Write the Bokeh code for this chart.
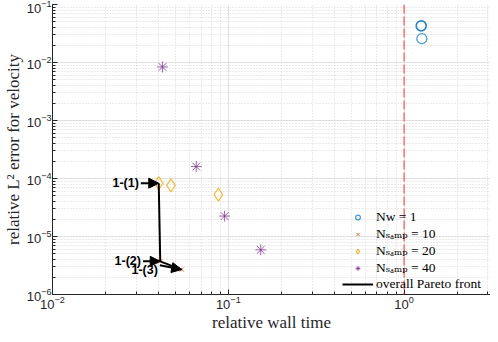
from bokeh.plotting import figure
from bokeh.models import Legend, LegendItem, Span, Arrow, NormalHead, ColumnDataSource
from bokeh.core.properties import value
from bokeh.embed import file_html
from bokeh.resources import INLINE

# ---- data ----
nw1_time = [1.247, 1.255, 1.262]
nw1_err = [0.0427, 0.0430, 0.0258]

samp10_time = [0.0410, 0.0543]
samp10_err = [3.73e-6, 2.69e-6]

samp20_time = [0.0402, 0.0472, 0.0878]
samp20_err = [8.3e-5, 7.6e-5, 5.27e-5]

samp40_time = [0.0422, 0.0657, 0.0953, 0.153]
samp40_err = [8.37e-3, 1.605e-4, 2.25e-5, 5.88e-6]

pareto_time = [0.0402, 0.0410, 0.0543]
pareto_err = [8.3e-5, 3.73e-6, 2.69e-6]

ref_time = 1.0

ann_labels = ["1-(1)", "1-(2)", "1-(3)"]
ann_tail_x = [0.0318, 0.0327, 0.0408]
ann_tail_y = [8.3e-5, 3.73e-6, 3.2e-6]
ann_head_x = pareto_time
ann_head_y = pareto_err

legend_labels = ["Nw = 1", "Nₛₐₘₚ = 10", "Nₛₐₘₚ = 20", "Nₛₐₘₚ = 40", "overall Pareto front"]

x_range = (0.01, 3.1)
y_range = (1e-6, 1e-1)

# ---- figure ----
p = figure(width=490, height=334, x_axis_type="log", y_axis_type="log",
           x_range=x_range, y_range=y_range, output_backend="svg",
           toolbar_location=None, min_border_left=44, min_border_right=0,
           min_border_top=4, min_border_bottom=36)
p.outline_line_color = None
p.background_fill_color = "white"

sans = "Liberation Sans"
serif = "Liberation Serif"
for ax in (p.xaxis[0], p.yaxis[0]):
    ax.axis_line_color = "#262626"
    ax.major_tick_line_color = "#262626"
    ax.minor_tick_line_color = "#262626"
    ax.major_tick_in = 5
    ax.major_tick_out = 0
    ax.minor_tick_in = 3
    ax.minor_tick_out = 0
    ax.major_label_text_font = sans
    ax.major_label_text_font_size = "13px"
    ax.major_label_text_color = "#262626"
    ax.axis_label_text_font = serif
    ax.axis_label_text_font_size = "17px"
    ax.axis_label_text_font_style = "normal"
    ax.axis_label_text_color = "#262626"
    ax.major_label_standoff = 1
    ax.axis_label_standoff = 1

p.xaxis.axis_label = "relative wall time"
p.yaxis.axis_label = "relative L² error for velocity"

for g in (p.xgrid[0], p.ygrid[0]):
    g.grid_line_color = "#dedede"
    g.grid_line_alpha = 0.8
    g.minor_grid_line_color = "#c4c4c4"
    g.minor_grid_line_alpha = 0.7
    g.minor_grid_line_dash = "1 2"

# reference line
p.add_layout(Span(location=ref_time, dimension="height", line_color="red",
                  line_alpha=0.4, line_width=2, line_dash="9 3"))

blue = "#0072BD"
orange = "#D95319"
yellow = "#EDB120"
purple = "#7E2F8E"

r1 = p.scatter(nw1_time, nw1_err, marker="circle", size=10, fill_color=None,
               line_color=blue, line_width=1.3, line_alpha=0.7)
r2 = p.scatter(samp10_time, samp10_err, marker="x", size=6, line_color=orange,
               line_width=1, line_alpha=0.8)
r3 = p.scatter(samp20_time, samp20_err, marker="diamond", size=13, fill_color=None,
               line_color=yellow, line_width=1.2, line_alpha=0.85)
r4 = p.scatter(samp40_time, samp40_err, marker="asterisk", size=11,
               line_color=purple, line_width=1, line_alpha=0.75)
r5 = p.line(pareto_time, pareto_err, line_color="black", line_width=2)

# annotations
for tx, ty, hx, hy in zip(ann_tail_x, ann_tail_y, ann_head_x, ann_head_y):
    p.add_layout(Arrow(end=NormalHead(size=10, fill_color="black", line_color="black"),
                       x_start=tx, y_start=ty, x_end=hx, y_end=hy,
                       line_color="black", line_width=2))
ann_src = ColumnDataSource(dict(x=ann_tail_x, y=ann_tail_y, t=ann_labels,
                                dy=[0, 0, 5]))
p.text(x="x", y="y", text="t", source=ann_src, text_align="right",
       text_baseline="middle", x_offset=-2, y_offset="dy",
       text_font=value(sans), text_font_style="bold", text_font_size="12.5px",
       text_color="black")

legend = Legend(items=[LegendItem(label=legend_labels[0], renderers=[r1]),
                       LegendItem(label=legend_labels[1], renderers=[r2]),
                       LegendItem(label=legend_labels[2], renderers=[r3]),
                       LegendItem(label=legend_labels[3], renderers=[r4]),
                       LegendItem(label=legend_labels[4], renderers=[r5])],
                location=(290, 2), background_fill_alpha=0, border_line_color=None,
                label_text_font="'Liberation Serif', 'DejaVu Serif'",
                label_text_font_size="13.5px",
                label_text_color="black", glyph_width=31, glyph_height=12,
                label_standoff=3, spacing=0, padding=2, margin=0, label_height=12)
p.add_layout(legend)

open("out.html", "w").write(file_html(p, INLINE))
